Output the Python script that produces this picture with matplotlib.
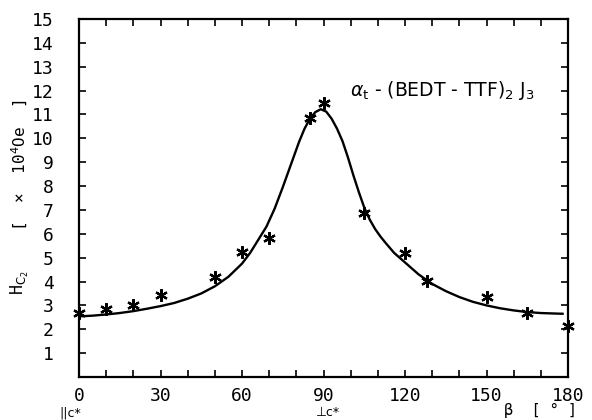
import matplotlib
matplotlib.use("Agg")
import matplotlib.pyplot as plt
from matplotlib.ticker import MultipleLocator

# measured points
beta_pts = [0, 10, 20, 30, 50, 60, 70, 85, 90, 105, 120, 128, 150, 165, 180]
hc2_pts = [2.67, 2.83, 3.0, 3.42, 4.17, 5.25, 5.83, 10.85, 11.5, 6.88, 5.2, 4.04, 3.37, 2.67, 2.12]

# fitted curve
beta_fit = [0, 5, 10, 15, 20, 25, 30, 35, 40, 45, 50, 55, 60, 63, 66, 69, 72, 75, 78,
            81, 83, 85, 87, 89, 91, 93, 95, 97, 99, 101, 103, 105, 107, 109, 111, 113,
            116, 120, 125, 130, 135, 140, 145, 150, 155, 160, 165, 170, 175, 178]
hc2_fit = [2.54, 2.57, 2.62, 2.68, 2.76, 2.86, 2.97, 3.1, 3.28, 3.5, 3.8, 4.2, 4.75,
           5.2, 5.75, 6.3, 7.05, 7.95, 8.9, 9.85, 10.4, 10.82, 11.1, 11.22, 11.12, 10.82,
           10.4, 9.88, 9.2, 8.45, 7.75, 7.1, 6.6, 6.2, 5.88, 5.6, 5.2, 4.8, 4.3, 3.9, 3.6,
           3.35, 3.15, 3.0, 2.88, 2.79, 2.72, 2.68, 2.66, 2.65]

x_ticks = [0, 30, 60, 90, 120, 150, 180]
y_ticks = list(range(1, 16))

fig = plt.figure(figsize=(5.92, 4.2), dpi=100)
ax = fig.add_axes([79/592, 1-377/420, (568-79)/592, (377-19)/420])

ax.plot(beta_fit, hc2_fit, color="black", lw=1.7, zorder=2, solid_joinstyle="round")
ax.plot(beta_pts, hc2_pts, linestyle="none", marker=(6, 2, 0), markersize=9,
        markeredgewidth=1.6, color="black", zorder=3, clip_on=False)

ax.set_xlim(0, 180)
ax.set_ylim(0, 15)
ax.set_xticks(x_ticks)
ax.set_yticks(y_ticks)
ax.xaxis.set_minor_locator(MultipleLocator(10))
mono = "DejaVu Sans Mono"
ax.set_xticklabels([str(v) for v in x_ticks], family=mono, fontsize=13)
ax.set_yticklabels([str(v) for v in y_ticks], family=mono, fontsize=13)
ax.tick_params(axis="both", which="both", direction="in", top=True, right=True,
               width=1.2, color="black")
ax.tick_params(axis="both", which="major", length=5)
ax.tick_params(axis="both", which="minor", length=5)
ax.tick_params(axis="x", which="major", pad=7)
ax.tick_params(axis="y", which="major", pad=18)
for s in ax.spines.values():
    s.set_linewidth(1.6)

# y label
fig.text(20/592, 1-283/420, r"H$_{\mathrm{C}_2}$", rotation=90, ha="center", va="center",
         fontsize=12, family=mono)
fig.text(20/592, 1-165/420, r"[  ×  10$^{4}$Oe  ]", rotation=90, ha="center", va="center",
         fontsize=11.5, family=mono)

# x labels
fig.text(540/592, 1-410/420, "β  [ ° ]", ha="center", va="center", fontsize=11,
         family=mono)
fig.text(70/592, 1-413/420, "||c*", ha="center", va="center", fontsize=9)
fig.text(328/592, 1-412/420, "⊥c*", ha="center", va="center", fontsize=9)

# annotation
fig.text(350/592, 1-90/420, r"$\alpha_\mathrm{t}$ - (BEDT - TTF)$_2$ J$_3$",
         ha="left", va="center", fontsize=13.5)

fig.savefig("out.png", dpi=100)
